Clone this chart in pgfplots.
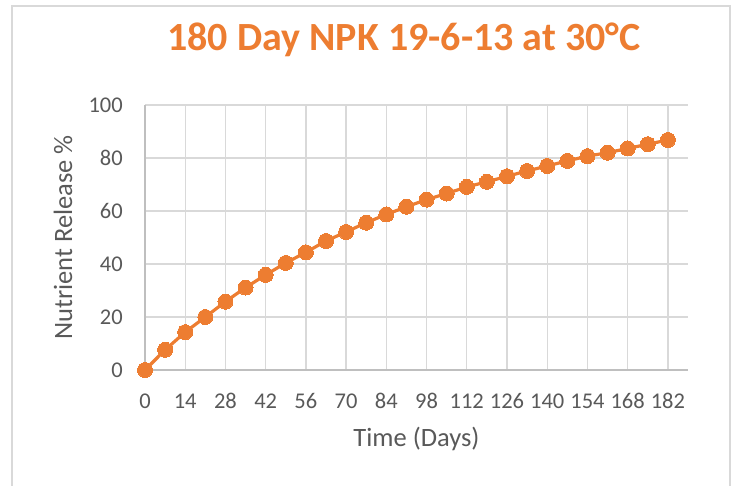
\documentclass[border=0pt]{standalone}
\usepackage{pgfplots}
\pgfplotsset{compat=1.18}
\usepackage{fontspec}
\setmainfont{Carlito}
\definecolor{orng}{HTML}{ED7D31}
\definecolor{gridc}{HTML}{D9D9D9}
\definecolor{axc}{HTML}{BFBFBF}
\definecolor{txt}{HTML}{595959}
\pgfplotstableread{
x y
0 0
7 7.6
14 14.3
21 20.0
28 25.8
35 31.1
42 35.9
49 40.4
56 44.4
63 48.7
70 52.1
77 55.6
84 58.7
91 61.6
98 64.3
105 66.6
112 69.1
119 71.0
126 73.1
133 75.1
140 77.0
147 78.9
154 80.7
161 82.0
168 83.6
175 85.2
182 86.8
}\datatable
\begin{document}
\begin{tikzpicture}[x=1pt,y=1pt]
\useasboundingbox (0,0) rectangle (735,485);
\draw[gridc, line width=1.3pt] (12,-2) -- (12,479) -- (730,479) -- (730,-2);
\begin{axis}[
  at={(145pt,115pt)}, anchor=south west,
  scale only axis, width=543pt, height=265pt,
  xmin=0, xmax=189, ymin=0, ymax=100,
  xtick={0,14,...,182}, ytick={0,20,...,100},
  grid=major,
  major grid style={gridc, line width=1.3pt},
  axis x line=bottom, axis y line=left,
  axis line style={axc, line width=1.3pt, -},
  major tick length=0pt,
  /pgf/number format/assume math mode=true,
  tick label style={font=\fontsize{22.5}{27}\selectfont, text=txt},
  xticklabel style={anchor=base, yshift=-38pt},
  yticklabel style={anchor=east, inner sep=0pt, xshift=-22pt},
  xlabel={Time (Days)},
  ylabel={Nutrient Release \%},
  label style={font=\fontsize{26.5}{31}\selectfont, text=txt},
  xlabel style={at={(axis description cs:0.5,-0.29)}, anchor=base},
  ylabel style={at={(axis description cs:-0.134,0.5)}, anchor=base, rotate=0},
  title={180 Day NPK 19-6-13 at 30°C},
  title style={at={(axis description cs:0.477,1.182)}, anchor=base, font=\bfseries\fontsize{40}{46}\selectfont, text=orng},
  clip=false,
]
\addplot[orng, line width=3.2pt, mark=*, mark size=7.5pt, mark options={fill=orng, draw=orng, line width=0pt}] table[x=x,y=y] {\datatable};
\end{axis}
\end{tikzpicture}
\end{document}
